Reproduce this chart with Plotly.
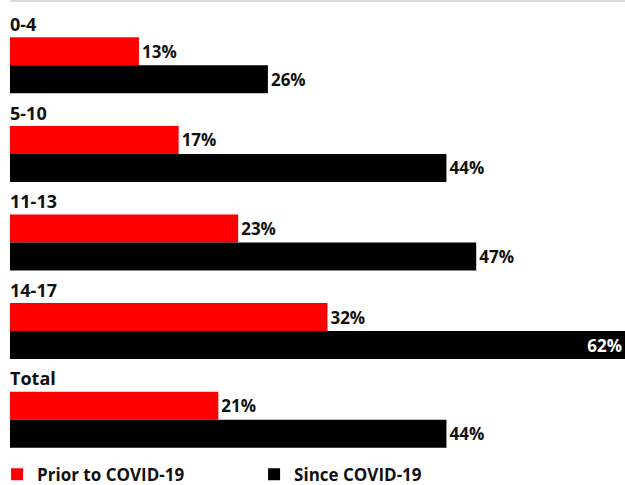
import plotly.graph_objects as go

groups = ["0-4", "5-10", "11-13", "14-17", "Total"]
prior = [13, 17, 23, 32, 21]
since = [26, 44, 47, 62, 44]
series_names = ["Prior to COVID-19", "Since COVID-19"]
colors = ["#ff0000", "#000000"]

X_MAX = 62
FONT = "Open Sans"
FS_VAL = 17
FS_LBL = 18

def positions(vals):
    return ["inside" if v >= X_MAX - 2 else "outside" for v in vals]

def tcolors(vals):
    return ["#ffffff" if v >= X_MAX - 2 else "#111111" for v in vals]

fig = go.Figure()
for name, vals, col in zip(series_names, [prior, since], colors):
    fig.add_trace(go.Bar(
        y=groups, x=vals, orientation="h", name=name,
        marker=dict(color=col, line=dict(width=0)),
        text=[f"{v}%" for v in vals],
        textposition=positions(vals),
        insidetextanchor="end",
        textfont=dict(family=FONT, size=FS_VAL, color=tcolors(vals), weight="bold"),
        constraintext="none",
        cliponaxis=False,
        hoverinfo="skip",
    ))

for i, g in enumerate(groups):
    fig.add_annotation(
        x=0, y=i - 0.5, xref="x", yref="y", text=g, showarrow=False,
        xanchor="left", yanchor="middle", yshift=-3, xshift=-2,
        font=dict(family=FONT, size=FS_LBL, color="#111111", weight="bold"),
    )

fig.add_shape(type="line", xref="paper", yref="paper", x0=0, x1=1,
              y0=1.045, y1=1.045, line=dict(color="#cccccc", width=1.5))

fig.update_layout(
    width=625, height=485,
    margin=dict(l=10, r=0, t=21, b=21, autoexpand=False),
    paper_bgcolor="white", plot_bgcolor="white",
    barmode="group", bargap=0.368, bargroupgap=0,
    showlegend=True,
    legend=dict(orientation="h", xref="paper", x=-0.021, xanchor="left",
                yref="paper", y=-0.024, yanchor="middle",
                entrywidth=212, entrywidthmode="pixels",
                font=dict(family=FONT, size=17, color="#111111", weight="bold"),
                itemclick=False, itemdoubleclick=False),
    xaxis=dict(range=[0, X_MAX], visible=False, fixedrange=True),
    yaxis=dict(range=[len(groups) - 0.5, -0.5], autorange=False,
               visible=False, fixedrange=True),
)

fig.write_html("out.html", config={"displayModeBar": False},
               post_script="document.body.style.margin='0';")
